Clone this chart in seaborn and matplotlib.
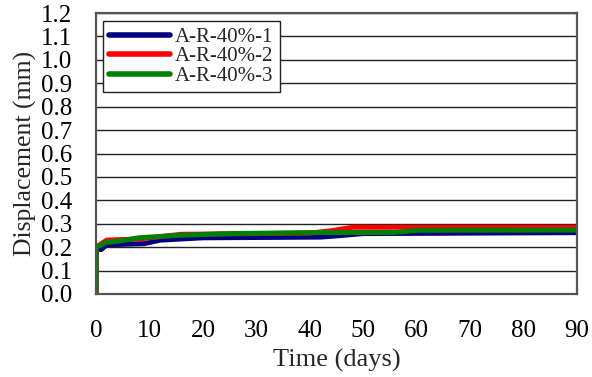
import numpy as np
import pandas as pd
import seaborn as sns
import matplotlib.pyplot as plt

# Displacement readings (mm) over time (days) for three specimens
days_1 = [0, 0.05, 1, 2, 9, 12, 20, 42, 46, 50, 90]
disp_1 = [0, 0.19, 0.19, 0.21, 0.215, 0.23, 0.24, 0.243, 0.25, 0.258, 0.262]

days_2 = [0, 0.05, 2, 8, 16, 30, 40, 44, 48, 90]
disp_2 = [0, 0.20, 0.23, 0.235, 0.255, 0.258, 0.26, 0.27, 0.285, 0.285]

days_3 = [0, 0.05, 2, 5, 8, 15, 25, 40, 56, 60, 90]
disp_3 = [0, 0.20, 0.22, 0.228, 0.24, 0.25, 0.258, 0.262, 0.263, 0.272, 0.273]

labels = ["A-R-40%-1", "A-R-40%-2", "A-R-40%-3"]
colors = ["#000080", "#FF0000", "#008000"]

x_ticks = list(range(0, 91, 10))
y_ticks = [round(0.1 * i, 1) for i in range(13)]

frames = []
for lab, d, v in zip(labels, [days_1, days_2, days_3], [disp_1, disp_2, disp_3]):
    frames.append(pd.DataFrame({"Time": d, "Disp": v, "Specimen": lab}))
df = pd.concat(frames, ignore_index=True)

sns.set_theme(style="white")
plt.rcParams["font.family"] = ["Liberation Serif", "DejaVu Serif"]

fig = plt.figure(figsize=(5.92, 3.77), dpi=100)
ax = fig.add_axes([96 / 592, 1 - 294 / 377, 481 / 592, 281 / 377])

sns.lineplot(data=df, x="Time", y="Disp", hue="Specimen", palette=colors,
             linewidth=3.6, ax=ax, estimator=None, sort=False)

ax.set_xlim(0, 90)
ax.set_ylim(0, 1.2)
ax.set_xticks(x_ticks)
ax.set_yticks(y_ticks)
ax.set_yticklabels([f"{t:.1f}" for t in y_ticks])
ax.yaxis.grid(True, color="#222222", linewidth=1.0)
ax.xaxis.grid(False)
ax.set_axisbelow(True)

ax.tick_params(axis="both", labelsize=18, colors="black", length=0)
ax.tick_params(axis="x", pad=19)
ax.tick_params(axis="y", pad=17)

for side, sp in ax.spines.items():
    sp.set_visible(True)
    sp.set_color("#555555")
    sp.set_linewidth(1.6)

ax.set_xlabel("Time (days)", fontsize=19)
ax.xaxis.set_label_coords(0.5, -0.196)
ax.set_ylabel("Displacement (mm)", fontsize=18.5)
ax.yaxis.set_label_coords(-0.122, 0.5)

leg = ax.legend(loc="upper left", fontsize=15, frameon=True, fancybox=False,
                handlelength=2.9, handletextpad=0.25, borderpad=0.3,
                labelspacing=0.0, borderaxespad=0,
                bbox_to_anchor=(0.0146, 0.9715))
leg.get_frame().set_edgecolor("#222222")
leg.get_frame().set_linewidth(1.0)
leg.get_frame().set_alpha(1)
for line in leg.get_lines():
    line.set_linewidth(4)

fig.savefig("out.png", dpi=100)
